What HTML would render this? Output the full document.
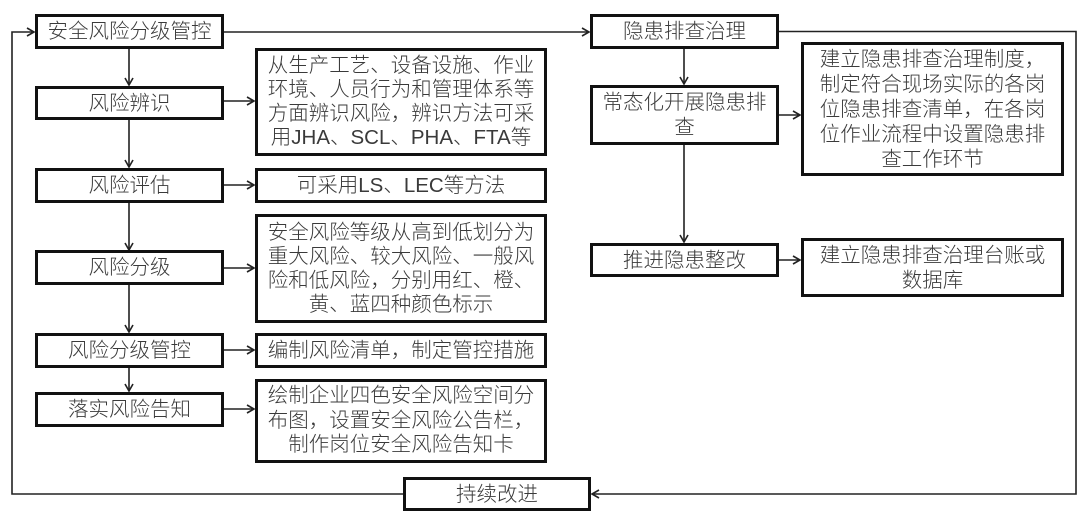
<!DOCTYPE html>
<html>
<head>
<meta charset="utf-8">
<style>
html,body{margin:0;padding:0;background:#fff;}
body{width:1080px;height:518px;position:relative;overflow:hidden;}
.b{position:absolute;box-sizing:border-box;border:3px solid #111;background:#fff;
display:flex;align-items:center;justify-content:center;text-align:center;
font-family:"Liberation Sans","Noto Sans CJK SC",sans-serif;font-weight:300;
font-size:20.5px;line-height:25px;color:#3a3a3a;white-space:nowrap;}
.b > div{display:block;}
svg{position:absolute;left:0;top:0;}
</style>
</head>
<body>
<svg width="1080" height="518" viewBox="0 0 1080 518">
<g fill="none" stroke="#222" stroke-width="1.6">
<polyline points="403,494 12,494 12,32 34,32"/>
<polyline points="27,28 34,32 27,36"/>
<line x1="224" y1="32" x2="589" y2="32"/>
<polyline points="582,28 589,32 582,36"/>
<polyline points="779,31.5 1076,31.5 1076,494 592,494"/>
<polyline points="599,490 592,494 599,498"/>
<line x1="129" y1="48" x2="129" y2="85"/><polyline points="125,78 129,85 133,78"/>
<line x1="129" y1="119" x2="129" y2="167"/><polyline points="125,160 129,167 133,160"/>
<line x1="129" y1="203" x2="129" y2="250"/><polyline points="125,243 129,250 133,243"/>
<line x1="129" y1="285" x2="129" y2="332"/><polyline points="125,325 129,332 133,325"/>
<line x1="129" y1="368" x2="129" y2="391"/><polyline points="125,384 129,391 133,384"/>
<line x1="224" y1="101" x2="254" y2="101"/><polyline points="247,97 254,101 247,105"/>
<line x1="224" y1="185" x2="254" y2="185"/><polyline points="247,181 254,185 247,189"/>
<line x1="224" y1="268" x2="254" y2="268"/><polyline points="247,264 254,268 247,272"/>
<line x1="224" y1="350" x2="254" y2="350"/><polyline points="247,346 254,350 247,354"/>
<line x1="224" y1="409" x2="254" y2="409"/><polyline points="247,405 254,409 247,413"/>
<line x1="684" y1="48" x2="684" y2="84"/><polyline points="680,77 684,84 688,77"/>
<line x1="684" y1="145" x2="684" y2="242"/><polyline points="680,235 684,242 688,235"/>
<line x1="779" y1="115" x2="800" y2="115"/><polyline points="793,111 800,115 793,119"/>
<line x1="779" y1="260" x2="800" y2="260"/><polyline points="793,256 800,260 793,264"/>
</g>
</svg>

<div class="b" style="left:35px;top:14px;width:189px;height:35px;"><div>安全风险分级管控</div></div>
<div class="b" style="left:35px;top:86px;width:189px;height:34px;"><div>风险辨识</div></div>
<div class="b" style="left:35px;top:168px;width:189px;height:35px;"><div>风险评估</div></div>
<div class="b" style="left:35px;top:250px;width:189px;height:35px;"><div>风险分级</div></div>
<div class="b" style="left:35px;top:333px;width:189px;height:35px;"><div>风险分级管控</div></div>
<div class="b" style="left:35px;top:392px;width:189px;height:35px;"><div>落实风险告知</div></div>

<div class="b" style="left:255px;top:48px;width:292px;height:108px;line-height:24px;"><div>从生产工艺、设备设施、作业<br>环境、人员行为和管理体系等<br>方面辨识风险，辨识方法可采<br>用JHA、SCL、PHA、FTA等</div></div>
<div class="b" style="left:255px;top:168px;width:292px;height:35px;"><div>可采用LS、LEC等方法</div></div>
<div class="b" style="left:255px;top:214px;width:292px;height:109px;line-height:24px;"><div>安全风险等级从高到低划分为<br>重大风险、较大风险、一般风<br>险和低风险，分别用红、橙、<br>黄、蓝四种颜色标示</div></div>
<div class="b" style="left:255px;top:333px;width:292px;height:35px;"><div>编制风险清单，制定管控措施</div></div>
<div class="b" style="left:255px;top:379px;width:292px;height:84px;line-height:24.5px;"><div>绘制企业四色安全风险空间分<br>布图，设置安全风险公告栏，<br>制作岗位安全风险告知卡</div></div>

<div class="b" style="left:403px;top:477px;width:188px;height:34px;"><div>持续改进</div></div>

<div class="b" style="left:590px;top:14px;width:189px;height:35px;"><div>隐患排查治理</div></div>
<div class="b" style="left:590px;top:85px;width:189px;height:60px;"><div>常态化开展隐患排<br>查</div></div>
<div class="b" style="left:590px;top:243px;width:189px;height:34px;"><div>推进隐患整改</div></div>

<div class="b" style="left:801px;top:42px;width:263px;height:134px;"><div>建立隐患排查治理制度，<br>制定符合现场实际的各岗<br>位隐患排查清单，在各岗<br>位作业流程中设置隐患排<br>查工作环节</div></div>
<div class="b" style="left:801px;top:238px;width:263px;height:59px;"><div>建立隐患排查治理台账或<br>数据库</div></div>
</body>
</html>
